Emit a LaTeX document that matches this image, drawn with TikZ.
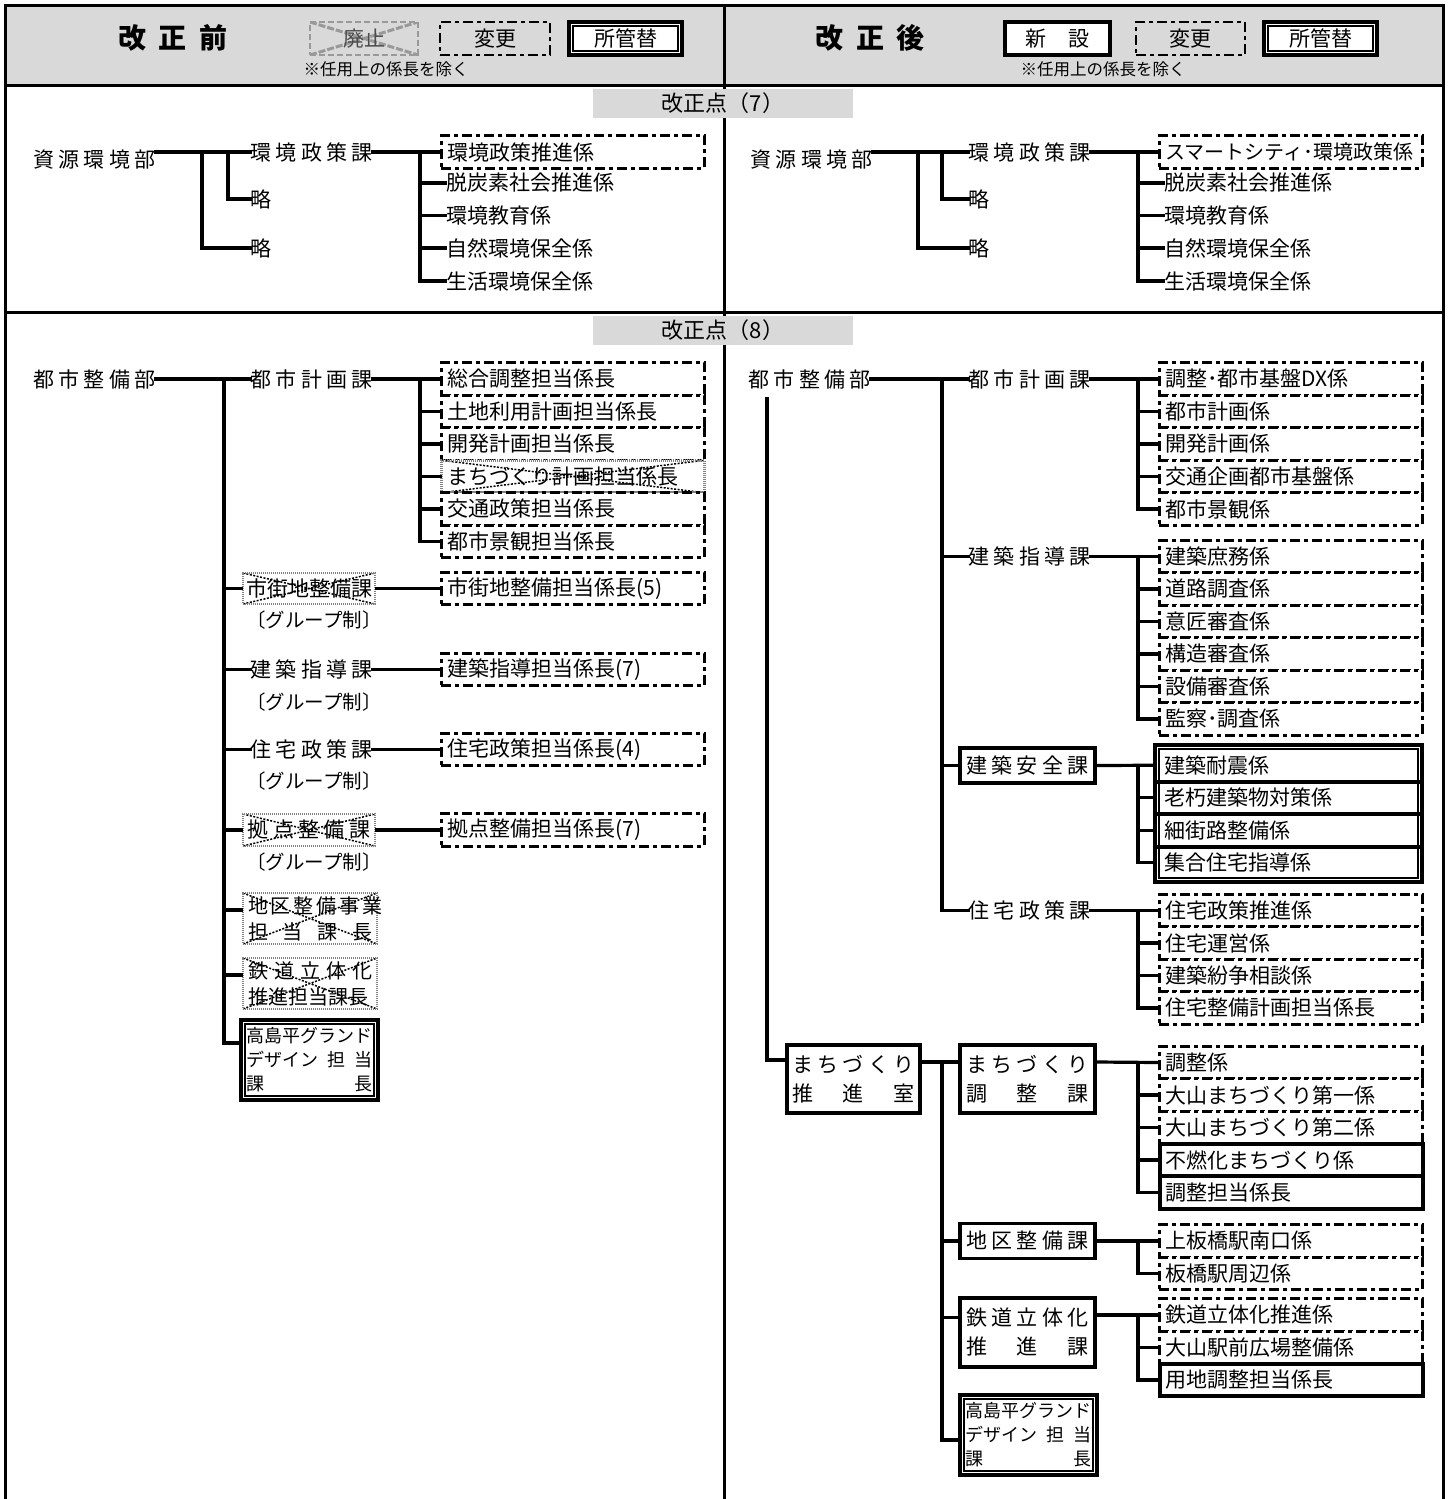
\documentclass[tikz,border=0pt]{standalone}
\usepackage{fontspec}
\setmainfont{Noto Sans CJK JP}
\newfontfamily\widefont[LetterSpace=21]{Noto Sans CJK JP}
\usetikzlibrary{calc}
\newcommand\fA{\fontsize{21pt}{25pt}\selectfont}
\newcommand\fW{\widefont\fontsize{21pt}{25pt}\selectfont}
\newcommand\fG{\fontsize{19.5pt}{23pt}\selectfont}
\newcommand\fL{\fontsize{21pt}{25pt}\selectfont}
\newcommand\fH{\fontsize{28pt}{32pt}\selectfont\bfseries}
\newcommand\fS{\fontsize{16.5pt}{20pt}\selectfont}
\newcommand\fT{\fontsize{18pt}{24pt}\selectfont}
\newcommand\fM{\fontsize{21pt}{29pt}\selectfont}
\newcommand\js[2]{\makebox[#1][s]{#2}}
\definecolor{hdr}{gray}{0.85}
\tikzset{
  frame/.style={line width=3pt},
  conn/.style={line width=3.2pt, line cap=rect},
  lbl/.style={inner sep=0pt, anchor=west, font=\fW},
  txt/.style={inner sep=0pt, anchor=west, font=\fA},
  grp/.style={inner sep=0pt, anchor=west, font=\fG},
  item/.style={minimum height=32.5pt, text width=251pt, inner xsep=6pt, inner ysep=0pt, anchor=west, align=left, font=\fA},
  lchg/.style={draw, line width=2.8pt, dash pattern=on 10pt off 4pt on 4pt off 4pt, fill=white},
  lnew/.style={draw, solid, line width=3.6pt, fill=white},
  lxfer/.style={lnew, path picture={\draw[solid, line width=1.2pt] ([shift={(4pt,-4pt)}]path picture bounding box.north west) rectangle ([shift={(-4pt,4pt)}]path picture bounding box.south east);}},
  labol/.style={draw=black!50, line width=2.8pt, dash pattern=on 1.2pt off 0.8pt, fill=white, path picture={\draw[black, line width=1.5pt, dash pattern=on 2pt off 1.5pt] (path picture bounding box.north west) -- (path picture bounding box.south east) (path picture bounding box.south west) -- (path picture bounding box.north east);}},
  hab/.style={draw=black!40, line width=2.5pt, dash pattern=on 6pt off 3pt, fill=hdr, text=black!70, path picture={\draw[black!40, line width=3pt, dash pattern=on 7pt off 2pt] (path picture bounding box.north west) -- (path picture bounding box.south east) (path picture bounding box.south west) -- (path picture bounding box.north east);}},
  legend/.style={minimum height=33pt, inner sep=0pt, font=\fL},
  band/.style={fill=hdr, minimum width=260pt, minimum height=29pt, inner sep=0pt, font=\fontsize{22pt}{26pt}\selectfont},
  unit/.style={inner sep=0pt, font=\fM, align=center},
}
\begin{document}
\begin{tikzpicture}[x=1pt,y=-1pt]
\useasboundingbox (0,0) rectangle (1448,1499);
\fill[white] (0,0) rectangle (1448,1499);
% header and frame
\fill[hdr] (5,5) rectangle (1443,85);
\draw[frame] (5,1499) -- (5,5) -- (1443,5) -- (1443,1499);
\draw[frame] (5,85) -- (1443,85);
\draw[frame] (5,312) -- (1443,312);
\draw[frame] (724,5) -- (724,1499);
\node[band] (p7) at (723,103) {改正点（7）};
\node[band] (p8) at (723,330.5) {改正点（8）};

% header left
\node[font=\fH, inner sep=0pt] (bef) at (173,38) {改\hspace{13pt}正\hspace{13pt}前};
\node[legend, hab, minimum width=108pt] (lgA) at (364,38.5) {廃止};
\node[legend, lchg, fill=hdr, minimum width=110pt] (lgB) at (495,38.5) {変更};
\node[legend, lxfer, minimum width=113pt] (lgC) at (625.5,38.5) {所管替};
\node[font=\fS, inner sep=0pt] (nt1) at (386,69) {※任用上の係長を除く};
% header right
\node[font=\fH, inner sep=0pt] (aft) at (870,38) {改\hspace{13pt}正\hspace{13pt}後};
\node[legend, lnew, minimum width=105pt] (lgD) at (1057.5,38.5) {新\hspace{22pt}設};
\node[legend, lchg, fill=hdr, minimum width=109pt] (lgE) at (1190.5,38.5) {変更};
\node[legend, lxfer, minimum width=113pt] (lgF) at (1320.5,38.5) {所管替};
\node[font=\fS, inner sep=0pt] (nt2) at (1103,69) {※任用上の係長を除く};

% ===== section 1 left
\node[lbl] (sk1) at (33,160) {資源環境部};
\node[lbl] (kk1) at (250,152) {環境政策課};
\node[txt] (ra1) at (250,199) {略};
\node[txt] (rb1) at (250,248) {略};
\node[item,lchg] (e11) at (440,152) {環境政策推進係};
\node[item] (e12) at (440,183) {脱炭素社会推進係};
\node[item] (e13) at (440,215.5) {環境教育係};
\node[item] (e14) at (440,248) {自然環境保全係};
\node[item] (e15) at (440,281) {生活環境保全係};
\draw[conn] ([yshift=8pt]sk1.east) -- (kk1.west);
\coordinate (s1a) at (202,152);
\coordinate (s1b) at (228,152);
\draw[conn] (s1a) |- (rb1.west);
\draw[conn] (s1b) |- (ra1.west);
\draw[conn] (kk1.east) -- (e11.west);
\coordinate (s1c) at (420,152);
\draw[conn] (s1c) |- ([xshift=5pt]e15.west);
\foreach \n in {e12,e13,e14} \draw[conn] (s1c |- \n.west) -- ([xshift=5pt]\n.west);

% ===== section 1 right
\node[lbl] (sk2) at (750,160) {資源環境部};
\node[lbl] (kk2) at (968,152) {環境政策課};
\node[txt] (ra2) at (968,199) {略};
\node[txt] (rb2) at (968,248) {略};
\node[item,lchg,font=\fontsize{20pt}{24pt}\selectfont] (f11) at (1158,152) {スマートシティ･環境政策係};
\node[item] (f12) at (1158,183) {脱炭素社会推進係};
\node[item] (f13) at (1158,215.5) {環境教育係};
\node[item] (f14) at (1158,248) {自然環境保全係};
\node[item] (f15) at (1158,281) {生活環境保全係};
\draw[conn] ([yshift=8pt]sk2.east) -- (kk2.west);
\coordinate (s2a) at (918,152);
\coordinate (s2b) at (942,152);
\draw[conn] (s2a) |- (rb2.west);
\draw[conn] (s2b) |- (ra2.west);
\draw[conn] (kk2.east) -- (f11.west);
\coordinate (s2c) at (1138,152);
\draw[conn] (s2c) |- ([xshift=5pt]f15.west);
\foreach \n in {f12,f13,f14} \draw[conn] (s2c |- \n.west) -- ([xshift=5pt]\n.west);

% ===== section 2 left
\node[lbl] (tsL) at (33,379) {都市整備部};
\node[lbl] (tkL) at (250,379) {都市計画課};
\node[item,lchg] (c1) at (440,379) {総合調整担当係長};
\node[item,lchg] (c2) at (440,411.5) {土地利用計画担当係長};
\node[item,lchg] (c3) at (440,444) {開発計画担当係長};
\node[item,labol] (c4) at (440,476.5) {まちづくり計画担当係長};
\node[item,lchg] (c5) at (440,509) {交通政策担当係長};
\node[item,lchg] (c6) at (440,541.5) {都市景観担当係長};
\draw[conn] (tsL.east) -- (tkL.west);
\draw[conn] (tkL.east) -- (c1.west);
\coordinate (bL) at (420,379);
\draw[conn] (bL) |- (c6.west);
\foreach \n in {c2,c3,c4,c5} \draw[conn] (bL |- \n.west) -- (\n.west);

\node[labol, inner sep=0pt, minimum width=132pt, minimum height=31pt, font=\fA] (sg) at (309,588.5) {市街地整備課};
\node[item,lchg] (sgc) at (440,588.5) {市街地整備担当係長(5)};
\node[grp] (g1) at (246,620) {〔グループ制〕};
\draw[conn] (sg.east) -- (sgc.west);

\node[lbl] (kdL) at (250,669.5) {建築指導課};
\node[item,lchg] (kdc) at (440,669.5) {建築指導担当係長(7)};
\node[grp] (g2) at (246,702) {〔グループ制〕};
\draw[conn] (kdL.east) -- (kdc.west);

\node[lbl] (jsL) at (250,749.5) {住宅政策課};
\node[item,lchg] (jsc) at (440,749.5) {住宅政策担当係長(4)};
\node[grp] (g3) at (246,781) {〔グループ制〕};
\draw[conn] (jsL.east) -- (jsc.west);

\node[labol, inner sep=0pt, minimum width=132pt, minimum height=32pt, font=\fW] (kt) at (309,830) {拠点整備課};
\node[item,lchg] (ktc) at (440,830) {拠点整備担当係長(7)};
\node[grp] (g4) at (246,862) {〔グループ制〕};
\draw[conn] (kt.east) -- (ktc.west);

\node[labol, inner sep=0pt, minimum width=134pt, minimum height=51pt, font=\fontsize{20pt}{26pt}\selectfont, align=center] (cj) at (310,918.5) {\js{124pt}{地 区 整 備 事 業}\\\js{124pt}{担 当 課 長}};
\node[labol, inner sep=0pt, minimum width=134pt, minimum height=51pt, font=\fontsize{20pt}{26pt}\selectfont, align=center] (tt) at (310,983.5) {\js{124pt}{鉄 道 立 体 化}\\\js{124pt}{推進担当課長}};
\node[lxfer, inner sep=0pt, minimum width=137pt, minimum height=80pt, font=\fT, align=center] (tgL) at (309.5,1060) {\js{126pt}{高島平グランド}\\\js{126pt}{デザイン 担 当}\\\js{126pt}{課 長}};

\coordinate (tL) at (224,379);
\draw[conn] (tL) |- ([yshift=17pt]tgL.west);
\draw[conn] (tL |- sg.west) -- (sg.west);
\draw[conn] (tL |- kdL.west) -- (kdL.west);
\draw[conn] (tL |- jsL.west) -- (jsL.west);
\draw[conn] (tL |- kt.west) -- (kt.west);
\path ([yshift=8.5pt]cj.west) coordinate (cjc);
\path ([yshift=8.5pt]tt.west) coordinate (ttc);
\draw[conn] (tL |- cjc) -- (cjc);
\draw[conn] (tL |- ttc) -- (ttc);

% ===== section 2 right
\node[lbl] (tsR) at (748,379) {都市整備部};
\node[lbl] (tkR) at (968,379) {都市計画課};
\node[item,lchg] (d1) at (1158,379) {調整･都市基盤DX係};
\node[item,lchg] (d2) at (1158,411.5) {都市計画係};
\node[item,lchg] (d3) at (1158,444) {開発計画係};
\node[item,lchg] (d4) at (1158,476.5) {交通企画都市基盤係};
\node[item,lchg] (d5) at (1158,509) {都市景観係};
\draw[conn] (tsR.east) -- (tkR.west);
\draw[conn] (tkR.east) -- (d1.west);
\coordinate (bR1) at (1138,379);
\draw[conn] (bR1) |- (d5.west);
\foreach \n in {d2,d3,d4} \draw[conn] (bR1 |- \n.west) -- (\n.west);

\node[lbl] (kdR) at (968,556.5) {建築指導課};
\node[item,lchg] (h1) at (1158,556.5) {建築庶務係};
\node[item,lchg] (h2) at (1158,589) {道路調査係};
\node[item,lchg] (h3) at (1158,621.5) {意匠審査係};
\node[item,lchg] (h4) at (1158,654) {構造審査係};
\node[item,lchg] (h5) at (1158,686.5) {設備審査係};
\node[item,lchg] (h6) at (1158,719) {監察･調査係};
\draw[conn] (kdR.east) -- (h1.west);
\coordinate (bR2) at (1138,556.5);
\draw[conn] (bR2) |- (h6.west);
\foreach \n in {h2,h3,h4,h5} \draw[conn] (bR2 |- \n.west) -- (\n.west);

\node[lnew, inner sep=0pt, minimum width=135pt, minimum height=35pt, font=\fW] (aR) at (1027.5,765.5) {建築安全課};
\node[lxfer, inner sep=0pt, minimum width=267pt, minimum height=137pt] (gr) at (1288.5,813.5) {};
\node[item] (a1) at (1158,765.25) {建築耐震係};
\node[item] (a2) at (1158,797.75) {老朽建築物対策係};
\node[item] (a3) at (1158,830.25) {細街路整備係};
\node[item] (a4) at (1158,862.75) {集合住宅指導係};
\foreach \n in {a1,a2,a3} \draw[line width=4pt] ($(gr.west |- \n.south)+(4pt,0)$) -- ($(gr.east |- \n.south)+(-4pt,0)$);
\draw[conn] (aR.east) -- (gr.west |- a1.west);
\coordinate (bR3) at (1138,765.25);
\draw[conn] (bR3) |- (gr.west |- a4.west);
\foreach \n in {a2,a3} \draw[conn] (bR3 |- \n.west) -- (gr.west |- \n.west);

\node[lbl] (jsR) at (968,910.5) {住宅政策課};
\node[item,lchg] (k1) at (1158,910.5) {住宅政策推進係};
\node[item,lchg] (k2) at (1158,943) {住宅運営係};
\node[item,lchg] (k3) at (1158,975.5) {建築紛争相談係};
\node[item,lchg] (k4) at (1158,1008) {住宅整備計画担当係長};
\draw[conn] (jsR.east) -- (k1.west);
\coordinate (bR4) at (1138,910.5);
\draw[conn] (bR4) |- (k4.west);
\foreach \n in {k2,k3} \draw[conn] (bR4 |- \n.west) -- (\n.west);

\coordinate (tR2) at (942,379);
\draw[conn] (tR2) |- (jsR.west);
\draw[conn] (tR2 |- kdR.west) -- (kdR.west);
\draw[conn] (tR2 |- aR.west) -- (aR.west);

\node[lnew, unit, minimum width=133pt, minimum height=68pt] (mz) at (853.5,1079) {\js{122pt}{ま ち づ く り}\\\js{122pt}{推 進 室}};
\node[lnew, unit, minimum width=135pt, minimum height=68pt] (mc) at (1027.5,1079) {\js{122pt}{ま ち づ く り}\\\js{122pt}{調 整 課}};
\node[item,lchg] (m1) at (1158,1062.5) {調整係};
\node[item,lchg] (m2) at (1158,1095) {大山まちづくり第一係};
\node[item,lchg] (m3) at (1158,1127.5) {大山まちづくり第二係};
\node[item,lnew] (m4) at (1158,1160) {不燃化まちづくり係};
\node[item,lnew] (m5) at (1158,1192.5) {調整担当係長};
\draw[conn] ($(tsR.south west)+(19pt,-10pt)$) |- ([yshift=19pt]mz.west);
\draw[conn] ([yshift=17pt]mz.east) -- ([yshift=17pt]mc.west);
\draw[conn] ([yshift=17pt]mc.east) -- (m1.west);
\coordinate (bR5) at (1138,1062.5);
\draw[conn] (bR5) |- (m5.west);
\foreach \n in {m2,m3,m4} \draw[conn] (bR5 |- \n.west) -- (\n.west);

\node[lnew, inner sep=0pt, minimum width=135pt, minimum height=35pt, font=\fW] (cs) at (1027.5,1241) {地区整備課};
\node[item,lchg] (n1) at (1158,1241) {上板橋駅南口係};
\node[item,lchg] (n2) at (1158,1273.5) {板橋駅周辺係};
\draw[conn] (cs.east) -- (n1.west);
\coordinate (bR6) at (1138,1241);
\draw[conn] (bR6) |- (n2.west);

\node[lnew, unit, minimum width=135pt, minimum height=69pt] (tr) at (1027.5,1332.5) {\js{122pt}{鉄 道 立 体 化}\\\js{122pt}{推 進 課}};
\node[item,lchg] (q1) at (1158,1315) {鉄道立体化推進係};
\node[item,lchg] (q2) at (1158,1347.5) {大山駅前広場整備係};
\node[item,lnew] (q3) at (1158,1380) {用地調整担当係長};
\path ([yshift=17.5pt]tr.east) coordinate (trE);
\path ([yshift=15pt]tr.west) coordinate (trW);
\draw[conn] (trE) -- (q1.west);
\coordinate (bR7) at (1138,1315);
\draw[conn] (bR7) |- (q3.west);
\draw[conn] (bR7 |- q2.west) -- (q2.west);

\node[lxfer, inner sep=0pt, minimum width=137pt, minimum height=80pt, font=\fT, align=center] (tgR) at (1028.5,1435) {\js{126pt}{高島平グランド}\\\js{126pt}{デザイン 担 当}\\\js{126pt}{課 長}};
\path ([yshift=-5pt]tgR.west) coordinate (tgW);
\coordinate (tR3) at (942,1062);
\draw[conn] (tR3) |- (tgW);
\draw[conn] (tR3 |- cs.west) -- (cs.west);
\draw[conn] (tR3 |- trW) -- (trW);
\end{tikzpicture}
\end{document}
